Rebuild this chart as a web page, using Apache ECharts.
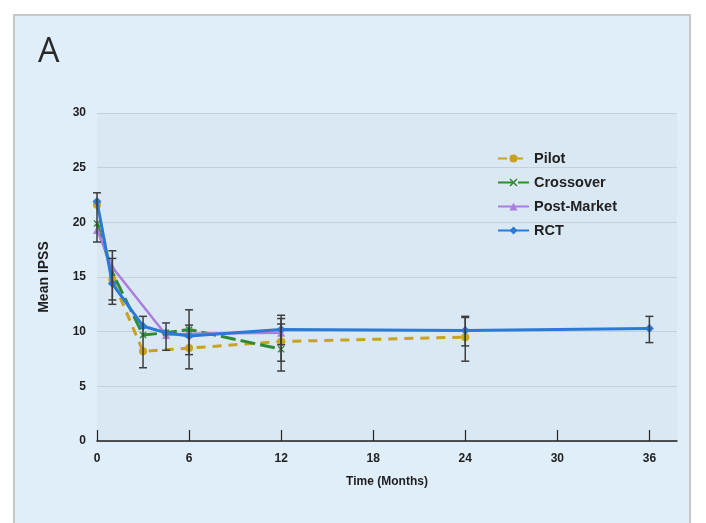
<!DOCTYPE html>
<html>
<head>
<meta charset="utf-8">
<script src="https://cdn.jsdelivr.net/npm/echarts@6/dist/echarts.min.js"></script>
<style>
html,body{margin:0;padding:0;background:#ffffff;width:706px;height:523px;overflow:hidden;}
#panel{position:absolute;left:13px;top:14px;width:674px;height:520px;border:2px solid #c6c8ca;background:#e0eef9;}
#chart{position:absolute;left:0;top:0;width:706px;height:523px;}
</style>
</head>
<body>
<div id="panel"></div>
<div id="chart"></div>
<script>
// Data
var pilot = [[0, 21.6], [1, 14.8], [3, 8.2], [6, 8.5], [12, 9.1], [24, 9.5]];
var crossover = [[0, 19.9], [1, 15.4], [3, 9.7], [4.5, 9.9], [6, 10.2], [12, 8.4]];
var postMarket = [[0, 19.3], [1, 15.9], [4.5, 9.7], [6, 9.8], [12, 9.9]];
var rct = [[0, 21.9], [1, 14.4], [3, 10.5], [4.5, 9.9], [6, 9.6], [12, 10.2], [24, 10.1], [36, 10.3]];
// error bars: [time, low, high]
var errorBars = [
  [0, 18.2, 22.7],
  [1, 12.5, 17.4], [1, 12.9, 16.7],
  [3, 6.7, 11.4],
  [4.5, 8.3, 10.8],
  [6, 6.6, 12.0], [6, 7.9, 10.6],
  [12, 6.4, 11.5], [12, 7.3, 11.2], [12, 8.8, 10.7],
  [24, 7.3, 11.4], [24, 8.7, 11.3],
  [36, 9.0, 11.4]
];
var xTicks = [0, 6, 12, 18, 24, 30, 36];
var yTicks = [0, 5, 10, 15, 20, 25, 30];

var chart = echarts.init(document.getElementById('chart'), null, {renderer: 'canvas'});
var xShape = 'path://M0,1.4L1.4,0L5,3.6L8.6,0L10,1.4L6.4,5L10,8.6L8.6,10L5,6.4L1.4,10L0,8.6L3.6,5Z';
var labelFont = {fontFamily: 'Liberation Sans, Arial, sans-serif', fontWeight: 'bold', color: '#1e1e1e', fontSize: 12};

var option = {
  backgroundColor: 'transparent',
  animation: false,
  title: {
    text: 'A', left: 33, top: 30,
    textStyle: {fontFamily: 'Open Sans, sans-serif', fontWeight: 'normal', fontSize: 34, color: '#2a2a2a'}
  },
  grid: {left: 97, right: 29, top: 113, bottom: 82, show: true, backgroundColor: '#dae8f3', borderWidth: 0},
  legend: {
    orient: 'vertical', left: 492, top: 146, itemWidth: 31, itemHeight: 10, itemGap: 9,
    textStyle: {fontFamily: 'Liberation Sans, Arial, sans-serif', fontWeight: 'bold', fontSize: 14.5, color: '#222'},
    data: ['Pilot', 'Crossover', 'Post-Market', 'RCT']
  },
  xAxis: {
    type: 'value', min: 0, max: 37.8, name: 'Time (Months)', nameLocation: 'middle', nameGap: 35,
    nameTextStyle: labelFont,
    axisLine: {show: true, lineStyle: {color: '#222', width: 1.5}},
    axisTick: {show: true, inside: true, length: 11, customValues: xTicks, lineStyle: {color: '#222', width: 1.2}},
    axisLabel: Object.assign({customValues: xTicks, margin: 12}, labelFont),
    splitLine: {show: false}
  },
  yAxis: {
    type: 'value', min: 0, max: 30, interval: 5, name: 'Mean IPSS', nameLocation: 'middle', nameGap: 46,
    nameTextStyle: Object.assign({}, labelFont, {fontSize: 14}),
    axisLine: {show: false}, axisTick: {show: false},
    axisLabel: Object.assign({margin: 11}, labelFont),
    splitLine: {show: true, lineStyle: {color: '#c3cfd9', width: 1}}
  },
  series: [
    {
      name: 'Pilot', type: 'line', data: pilot, symbol: 'circle', symbolSize: 8,
      itemStyle: {color: '#c9a21f'},
      lineStyle: {color: '#c9a21f', width: 3, type: [9, 7]}, z: 3
    },
    {
      name: 'Crossover', type: 'line', data: crossover, symbol: xShape, symbolSize: 7,
      itemStyle: {color: '#2e8a33'},
      lineStyle: {color: '#2e8a33', width: 3, type: [15, 5]}, z: 4
    },
    {
      name: 'Post-Market', type: 'line', data: postMarket, symbol: 'triangle', symbolSize: 8,
      itemStyle: {color: '#ab7ddf'},
      lineStyle: {color: '#ab7ddf', width: 2.5}, z: 5
    },
    {
      name: 'RCT', type: 'line', data: rct, symbol: 'diamond', symbolSize: 9,
      itemStyle: {color: '#2b7ad6'},
      lineStyle: {color: '#2b7ad6', width: 3}, z: 6
    },
    {
      name: 'errors', type: 'custom', z: 10, silent: true,
      data: errorBars,
      encode: {x: 0, y: [1, 2]},
      renderItem: function (params, api) {
        var t = api.value(0);
        var lo = api.coord([t, api.value(1)]);
        var hi = api.coord([t, api.value(2)]);
        var w = 4;
        var style = {stroke: '#3d3d3d', lineWidth: 1.5, fill: null};
        return {
          type: 'group',
          children: [
            {type: 'line', shape: {x1: lo[0], y1: lo[1], x2: hi[0], y2: hi[1]}, style: style},
            {type: 'line', shape: {x1: lo[0] - w, y1: lo[1], x2: lo[0] + w, y2: lo[1]}, style: style},
            {type: 'line', shape: {x1: hi[0] - w, y1: hi[1], x2: hi[0] + w, y2: hi[1]}, style: style}
          ]
        };
      }
    }
  ]
};
chart.setOption(option);
</script>
</body>
</html>
